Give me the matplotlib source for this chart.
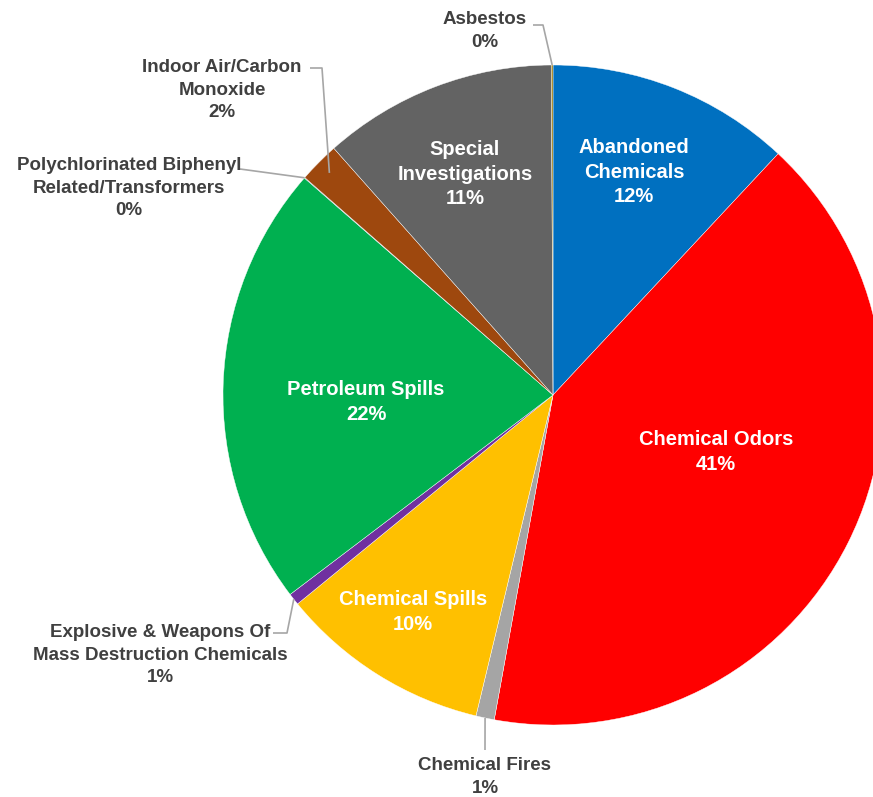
import matplotlib
matplotlib.use("Agg")
import matplotlib.pyplot as plt
import numpy as np

# ---- data (clockwise from 12 o'clock) ----
categories = ["Abandoned\nChemicals", "Chemical Odors", "Chemical Fires", "Chemical Spills",
              "Explosive & Weapons Of\nMass Destruction Chemicals", "Petroleum Spills",
              "Polychlorinated Biphenyl\nRelated/Transformers", "Indoor Air/Carbon\nMonoxide",
              "Special\nInvestigations", "Asbestos"]
values = [1195, 4090, 90, 1034, 58, 2175, 3, 199, 1148, 8]
colors = ["#0070C0", "#FF0000", "#A5A5A5", "#FFC000", "#7030A0", "#00B050",
          "#255E91", "#9E480E", "#636363", "#997300"]

# ---- layout (pixel coords, y downward) ----
W, H = 873, 797
CX, CY, R = 553, 395, 330
label_pos = {
    0: (634, 172), 1: (716, 452), 2: (485, 777), 3: (413, 612),
    4: (160, 655), 5: (366, 402), 6: (129, 188), 7: (222, 90),
    8: (465, 174), 9: (485, 31),
}
inside = {0, 1, 3, 5, 8}
# leader polylines: start points (pixel) then end at wedge mid angle * frac R
leaders = {
    9: ([(533, 25), (543, 25)], 1.0),
    7: ([(310, 68), (322, 68)], 0.955),
    6: ([(240, 169)], 1.0),
    4: ([(273, 633), (287, 633)], 1.0),
    2: ([(485, 750)], 1.0),
}

plt.rcParams['font.family'] = ['Liberation Sans', 'DejaVu Sans']

fig = plt.figure(figsize=(W / 100, H / 100), dpi=100)
ax = fig.add_axes([0, 0, 1, 1])

def P(x, y):
    return (x, H - y)

wedges, _ = ax.pie(values, colors=colors, startangle=90, counterclock=False,
                   center=P(CX, CY), radius=R,
                   wedgeprops=dict(edgecolor='white', linewidth=0.3))
ax.set_xlim(0, W)
ax.set_ylim(0, H)
ax.set_aspect('equal')
ax.axis('off')

total = sum(values)
for i, (cat, v) in enumerate(zip(categories, values)):
    pct = round(v / total * 100)
    x, y = label_pos[i]
    if i in inside:
        col, fs, ls = 'white', 14.5, 1.37
    else:
        col, fs, ls = '#404040', 13.5, 1.46
    ax.text(*P(x, y), f"{cat}\n{pct}%", ha='center', va='center', color=col,
            fontsize=fs, fontweight='bold', linespacing=ls, zorder=5)

for i, (pts, frac) in leaders.items():
    w = wedges[i]
    mid = np.deg2rad((w.theta1 + w.theta2) / 2)
    cx, cy = P(CX, CY)
    ex, ey = cx + frac * R * np.cos(mid), cy + frac * R * np.sin(mid)
    xs = [p[0] for p in pts] + [ex]
    ys = [H - p[1] for p in pts] + [ey]
    ax.plot(xs, ys, color='#A6A6A6', lw=1.2, zorder=4, solid_capstyle='butt')

fig.savefig("out.png", dpi=100)
